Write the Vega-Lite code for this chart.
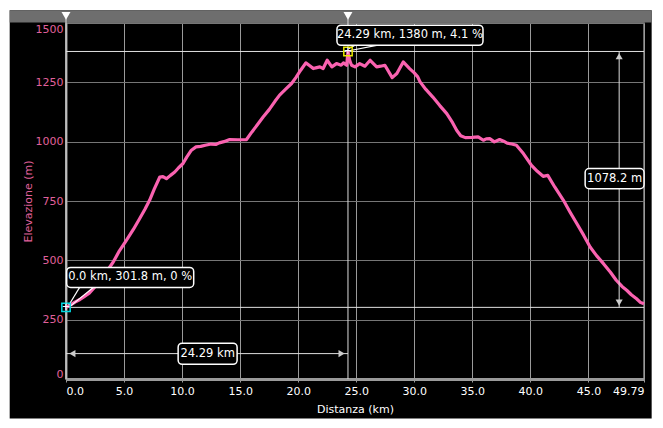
{
  "$schema": "https://vega.github.io/schema/vega-lite/v6.json",
  "width": 578,
  "height": 356,
  "autosize": {"type": "none"},
  "padding": {"left": 66, "top": 23, "right": 19, "bottom": 49},
  "background": "black",
  "config": {
    "font": "DejaVu Sans",
    "view": {"stroke": "#8a8a8a", "strokeWidth": 1.5, "fill": "black"}
  },
  "datasets": {
    "profile": [
      {"km": 0, "elev": 301.8}, {"km": 0.4, "elev": 312}, {"km": 0.77, "elev": 324}, {"km": 1.2, "elev": 335},
      {"km": 1.5, "elev": 345}, {"km": 2.0, "elev": 362}, {"km": 2.35, "elev": 381}, {"km": 2.8, "elev": 405},
      {"km": 3.2, "elev": 430}, {"km": 3.6, "elev": 460}, {"km": 4.07, "elev": 493}, {"km": 4.6, "elev": 540},
      {"km": 5.2, "elev": 584}, {"km": 5.8, "elev": 630}, {"km": 6.35, "elev": 676}, {"km": 6.8, "elev": 715},
      {"km": 7.2, "elev": 753}, {"km": 7.6, "elev": 800}, {"km": 8.08, "elev": 851}, {"km": 8.35, "elev": 853},
      {"km": 8.65, "elev": 844}, {"km": 9.0, "elev": 858}, {"km": 9.37, "elev": 872}, {"km": 9.7, "elev": 890},
      {"km": 10.08, "elev": 908}, {"km": 10.4, "elev": 935}, {"km": 10.8, "elev": 964}, {"km": 11.2, "elev": 978},
      {"km": 11.6, "elev": 980}, {"km": 12.0, "elev": 985}, {"km": 12.5, "elev": 990}, {"km": 12.9, "elev": 988},
      {"km": 13.2, "elev": 995}, {"km": 13.6, "elev": 1000}, {"km": 14.1, "elev": 1009}, {"km": 14.8, "elev": 1008},
      {"km": 15.55, "elev": 1009}, {"km": 16.0, "elev": 1040}, {"km": 16.5, "elev": 1072}, {"km": 16.98, "elev": 1104},
      {"km": 17.5, "elev": 1135}, {"km": 18.0, "elev": 1170}, {"km": 18.4, "elev": 1196}, {"km": 18.9, "elev": 1220},
      {"km": 19.43, "elev": 1245}, {"km": 19.8, "elev": 1270}, {"km": 20.2, "elev": 1300}, {"km": 20.66, "elev": 1332},
      {"km": 21.0, "elev": 1320}, {"km": 21.3, "elev": 1308}, {"km": 21.6, "elev": 1312}, {"km": 21.87, "elev": 1315},
      {"km": 22.15, "elev": 1308}, {"km": 22.5, "elev": 1343}, {"km": 22.9, "elev": 1315}, {"km": 23.3, "elev": 1329},
      {"km": 23.7, "elev": 1322}, {"km": 23.9, "elev": 1332}, {"km": 24.18, "elev": 1322}, {"km": 24.29, "elev": 1380},
      {"km": 24.45, "elev": 1340}, {"km": 24.6, "elev": 1322}, {"km": 24.9, "elev": 1315}, {"km": 25.3, "elev": 1329},
      {"km": 25.75, "elev": 1318}, {"km": 26.2, "elev": 1343}, {"km": 26.76, "elev": 1315}, {"km": 27.1, "elev": 1318},
      {"km": 27.47, "elev": 1322}, {"km": 28.1, "elev": 1270}, {"km": 28.5, "elev": 1287}, {"km": 29.05, "elev": 1336},
      {"km": 29.6, "elev": 1308}, {"km": 30.0, "elev": 1290}, {"km": 30.3, "elev": 1273}, {"km": 30.5, "elev": 1252},
      {"km": 31.0, "elev": 1220}, {"km": 31.6, "elev": 1188}, {"km": 32.2, "elev": 1152}, {"km": 32.8, "elev": 1118},
      {"km": 33.3, "elev": 1080}, {"km": 33.65, "elev": 1048}, {"km": 34.0, "elev": 1025}, {"km": 34.4, "elev": 1017},
      {"km": 35.0, "elev": 1018}, {"km": 35.5, "elev": 1020}, {"km": 35.95, "elev": 1006}, {"km": 36.2, "elev": 1012},
      {"km": 36.5, "elev": 1013}, {"km": 36.9, "elev": 999}, {"km": 37.35, "elev": 1009}, {"km": 37.7, "elev": 1002},
      {"km": 38.0, "elev": 994}, {"km": 38.4, "elev": 990}, {"km": 38.8, "elev": 985}, {"km": 39.4, "elev": 950},
      {"km": 40.1, "elev": 900}, {"km": 40.6, "elev": 875}, {"km": 41.1, "elev": 854}, {"km": 41.5, "elev": 858},
      {"km": 42.1, "elev": 809}, {"km": 42.85, "elev": 753}, {"km": 43.4, "elev": 705}, {"km": 44.0, "elev": 655},
      {"km": 44.6, "elev": 605}, {"km": 45.15, "elev": 556}, {"km": 45.7, "elev": 520}, {"km": 46.3, "elev": 486},
      {"km": 46.9, "elev": 450}, {"km": 47.4, "elev": 416}, {"km": 47.9, "elev": 390}, {"km": 48.3, "elev": 374},
      {"km": 48.7, "elev": 355}, {"km": 49.15, "elev": 338}, {"km": 49.5, "elev": 322}, {"km": 49.79, "elev": 317}
    ],
    "cursors": [{"km": 0, "elev": 301.8}, {"km": 24.29, "elev": 1380}],
    "one": [{}]
  },
  "layer": [
    {
      "data": {"name": "profile"},
      "mark": {"type": "line", "color": "#f862ae", "strokeWidth": 3, "strokeJoin": "round", "opacity": 0},
      "encoding": {
        "x": {
          "field": "km", "type": "quantitative",
          "scale": {"domain": [0, 49.79], "nice": false, "zero": false},
          "axis": {
            "title": "Distanza (km)",
            "grid": true,
            "values": [0, 5, 10, 15, 20, 25, 30, 35, 40, 45, 49.79],
            "labelExpr": "datum.value == 49.79 ? '49.79' : format(datum.value, '.1f')",
            "labelFlush": true,
            "labelColor": "white",
            "labelFontSize": 11,
            "labelPadding": 3,
            "titleColor": "white",
            "titleFontSize": 11,
            "titleFontWeight": "normal",
            "titlePadding": 7,
            "gridColor": "#9a9a9a",
            "gridWidth": 1,
            "domainColor": "#9a9a9a",
            "domainWidth": 3,
            "tickColor": "#9a9a9a",
            "tickSize": 3
          }
        },
        "y": {
          "field": "elev", "type": "quantitative",
          "scale": {"domain": [0, 1500], "nice": false, "zero": false},
          "axis": {
            "title": "Elevazione (m)",
            "grid": true,
            "values": [0, 250, 500, 750, 1000, 1250, 1500],
            "format": "d",
            "labelFlush": true,
            "labelColor": "#e0609c",
            "labelFontSize": 11,
            "labelPadding": 3,
            "ticks": false,
            "titleColor": "#e0609c",
            "titleFontSize": 11,
            "titleFontWeight": "normal",
            "titlePadding": 2,
            "gridColor": "#767676",
            "gridWidth": 1,
            "domainColor": "#9a9a9a",
            "domainWidth": 2
          }
        }
      }
    },
    {
      "data": {"name": "one"},
      "mark": {"type": "rect", "fill": "white"},
      "encoding": {
        "x": {"datum": -8},
        "x2": {"datum": -4.85},
        "y": {"datum": -400},
        "y2": {"datum": 1800}
      }
    },
    {
      "data": {"name": "one"},
      "mark": {"type": "rect", "fill": "white"},
      "encoding": {
        "x": {"datum": -8},
        "x2": {"datum": 56},
        "y": {"datum": 1554},
        "y2": {"datum": 1800}
      }
    },
    {
      "data": {"name": "one"},
      "mark": {"type": "rect", "fill": "white"},
      "encoding": {
        "x": {"datum": -8},
        "x2": {"datum": 56},
        "y": {"datum": -400},
        "y2": {"datum": -166}
      }
    },
    {
      "data": {"name": "one"},
      "mark": {"type": "rect", "fill": "white"},
      "encoding": {
        "x": {"datum": 50.45},
        "x2": {"datum": 56},
        "y": {"datum": -400},
        "y2": {"datum": 1800}
      }
    },
    {
      "data": {"name": "one"},
      "mark": {"type": "rect", "fill": "#6e6e6e"},
      "encoding": {
        "x": {"datum": -4.85},
        "x2": {"datum": 50.45},
        "y": {"datum": 1502},
        "y2": {"datum": 1554}
      }
    },
    {
      "data": {"name": "cursors"},
      "mark": {"type": "rule", "color": "#dddddd", "strokeWidth": 1},
      "encoding": {
        "x": {"field": "km", "type": "quantitative"},
        "y": {"datum": 0},
        "y2": {"datum": 1520}
      }
    },
    {
      "data": {"name": "cursors"},
      "mark": {"type": "point", "shape": "triangle-down", "filled": true, "color": "white", "opacity": 1, "size": 80},
      "encoding": {
        "x": {"field": "km", "type": "quantitative"},
        "y": {"datum": 1530}
      }
    },
    {
      "data": {"name": "cursors"},
      "mark": {"type": "rule", "color": "#e0e0e0", "strokeWidth": 1},
      "encoding": {
        "x": {"datum": 0},
        "x2": {"datum": 49.79},
        "y": {"field": "elev", "type": "quantitative"}
      }
    },
    {
      "data": {"name": "profile"},
      "mark": {"type": "line", "color": "#fa62b0", "strokeWidth": 3.2, "strokeJoin": "round"},
      "encoding": {
        "x": {"field": "km", "type": "quantitative"},
        "y": {"field": "elev", "type": "quantitative"}
      }
    },
    {
      "data": {"name": "one"},
      "mark": {"type": "rule", "color": "#dddddd", "strokeWidth": 1},
      "encoding": {
        "x": {"datum": 0},
        "x2": {"datum": 24.29},
        "y": {"datum": 107}
      }
    },
    {
      "data": {"name": "one"},
      "mark": {"type": "point", "shape": "triangle-left", "filled": true, "color": "#cccccc", "opacity": 1, "size": 50},
      "encoding": {
        "x": {"datum": 0.55},
        "y": {"datum": 107}
      }
    },
    {
      "data": {"name": "one"},
      "mark": {"type": "point", "shape": "triangle-right", "filled": true, "color": "#cccccc", "opacity": 1, "size": 50},
      "encoding": {
        "x": {"datum": 23.74},
        "y": {"datum": 107}
      }
    },
    {
      "data": {"name": "one"},
      "mark": {"type": "rule", "color": "#dddddd", "strokeWidth": 1},
      "encoding": {
        "x": {"datum": 47.65},
        "y": {"datum": 301.8},
        "y2": {"datum": 1380}
      }
    },
    {
      "data": {"name": "one"},
      "mark": {"type": "point", "shape": "triangle-up", "filled": true, "color": "#cccccc", "opacity": 1, "size": 50},
      "encoding": {
        "x": {"datum": 47.65},
        "y": {"datum": 1360}
      }
    },
    {
      "data": {"name": "one"},
      "mark": {"type": "point", "shape": "triangle-down", "filled": true, "color": "#cccccc", "opacity": 1, "size": 50},
      "encoding": {
        "x": {"datum": 47.65},
        "y": {"datum": 322}
      }
    },
    {
      "data": {"name": "one"},
      "mark": {"type": "rule", "color": "white", "strokeWidth": 1.2},
      "encoding": {
        "x": {"datum": 0.25},
        "x2": {"datum": 1.2},
        "y": {"datum": 312},
        "y2": {"datum": 388}
      }
    },
    {
      "data": {"name": "one"},
      "mark": {"type": "rule", "color": "white", "strokeWidth": 1.2},
      "encoding": {
        "x": {"datum": 0.35},
        "x2": {"datum": 2.4},
        "y": {"datum": 306},
        "y2": {"datum": 388}
      }
    },
    {
      "data": {"name": "one"},
      "mark": {"type": "rule", "color": "white", "strokeWidth": 1.2},
      "encoding": {
        "x": {"datum": 24.35},
        "x2": {"datum": 24.9},
        "y": {"datum": 1392},
        "y2": {"datum": 1406}
      }
    },
    {
      "data": {"name": "one"},
      "mark": {"type": "rule", "color": "white", "strokeWidth": 1.2},
      "encoding": {
        "x": {"datum": 24.5},
        "x2": {"datum": 26.76},
        "y": {"datum": 1384},
        "y2": {"datum": 1406}
      }
    },
    {
      "data": {"name": "one"},
      "mark": {"type": "rect", "fill": "black", "stroke": "white", "strokeWidth": 1.5, "cornerRadius": 4},
      "encoding": {
        "x": {"datum": 0.06},
        "x2": {"datum": 11.0},
        "y": {"datum": 386},
        "y2": {"datum": 470}
      }
    },
    {
      "data": {"name": "one"},
      "mark": {"type": "rect", "fill": "black", "stroke": "white", "strokeWidth": 1.5, "cornerRadius": 4},
      "encoding": {
        "x": {"datum": 23.34},
        "x2": {"datum": 35.92},
        "y": {"datum": 1406},
        "y2": {"datum": 1491}
      }
    },
    {
      "data": {"name": "one"},
      "mark": {"type": "rect", "fill": "black", "stroke": "white", "strokeWidth": 1.5, "cornerRadius": 4},
      "encoding": {
        "x": {"datum": 9.66},
        "x2": {"datum": 14.74},
        "y": {"datum": 62},
        "y2": {"datum": 151}
      }
    },
    {
      "data": {"name": "one"},
      "mark": {"type": "rect", "fill": "black", "stroke": "white", "strokeWidth": 1.5, "cornerRadius": 4},
      "encoding": {
        "x": {"datum": 44.72},
        "x2": {"datum": 49.79},
        "y": {"datum": 802},
        "y2": {"datum": 887}
      }
    },
    {
      "data": {"values": [
        {"label": "0.0 km, 301.8 m, 0 %", "km": 5.53, "elev": 428},
        {"label": "24.29 km, 1380 m, 4.1 %", "km": 29.63, "elev": 1448},
        {"label": "24.29 km", "km": 12.2, "elev": 106},
        {"label": "1078.2 m", "km": 47.26, "elev": 844}
      ]},
      "mark": {"type": "text", "color": "white", "fontSize": 11.5, "align": "center", "baseline": "middle"},
      "encoding": {
        "x": {"field": "km", "type": "quantitative"},
        "y": {"field": "elev", "type": "quantitative"},
        "text": {"field": "label"}
      }
    },
    {
      "data": {"name": "one"},
      "mark": {"type": "point", "shape": "square", "filled": false, "color": "#00d8e0", "strokeWidth": 1.5, "opacity": 1, "size": 70},
      "encoding": {
        "x": {"datum": 0},
        "y": {"datum": 301.8}
      }
    },
    {
      "data": {"name": "one"},
      "mark": {"type": "point", "shape": "square", "filled": false, "color": "#e8e800", "strokeWidth": 1.5, "opacity": 1, "size": 70},
      "encoding": {
        "x": {"datum": 24.29},
        "y": {"datum": 1380}
      }
    },
    {
      "data": {"name": "cursors"},
      "mark": {"type": "text", "text": "+", "color": "white", "fontSize": 10, "align": "center", "baseline": "middle"},
      "encoding": {
        "x": {"field": "km", "type": "quantitative"},
        "y": {"field": "elev", "type": "quantitative"}
      }
    }
  ]
}
